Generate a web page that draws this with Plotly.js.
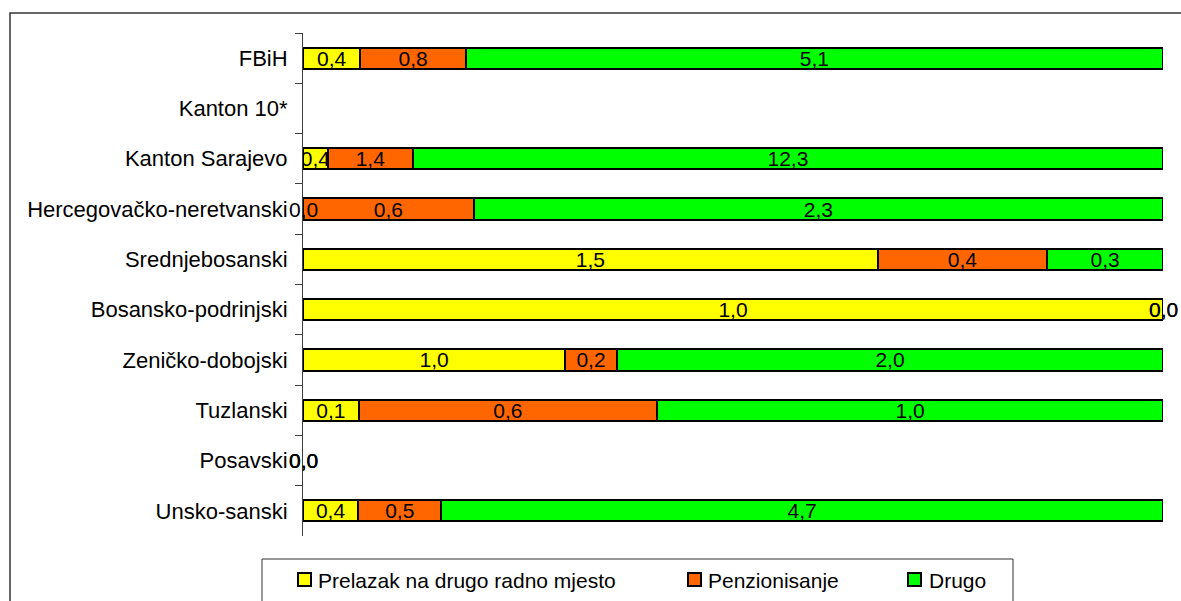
<!DOCTYPE html>
<html>
<head>
<meta charset="utf-8">
<script src="https://cdn.plot.ly/plotly-3.0.1.min.js"></script>
<style>
  html, body { margin: 0; padding: 0; background: #ffffff; }
  #chart { width: 1181px; height: 601px; }
</style>
</head>
<body>
<div id="chart"></div>
<script>
// ---- Data (top to bottom as shown) ----
var categories = ['FBiH', 'Kanton 10*', 'Kanton Sarajevo', 'Hercegovačko-neretvanski',
  'Srednjebosanski', 'Bosansko-podrinjski', 'Zeničko-dobojski', 'Tuzlanski', 'Posavski', 'Unsko-sanski'];
var seriesNames = ['Prelazak na drugo radno mjesto', 'Penzionisanje', 'Drugo'];
var prelazak = [0.42, null, 0.41, 0.0, 1.49, 1.0, 0.96, 0.11, 0.0, 0.36];
var penzionisanje = [0.77, null, 1.39, 0.57, 0.44, 0.0, 0.19, 0.59, 0.0, 0.54];
var drugo = [5.1, null, 12.3, 2.3, 0.3, 0.0, 2.0, 1.0, 0.0, 4.7];
var seriesColors = ['#FFFF00', '#FF6600', '#00FF00'];

var seriesValues = [prelazak, penzionisanje, drugo];
var FONT = 'Liberation Sans, Arial, sans-serif';

function fmt(v) { return v.toFixed(1).replace('.', ','); }

var traces = seriesValues.map(function (vals, i) {
  return {
    type: 'bar',
    orientation: 'h',
    name: seriesNames[i],
    y: categories,
    x: vals,
    text: vals.map(function (v) { return (v === null || v === 0) ? '' : fmt(v); }),
    textposition: 'inside',
    insidetextanchor: 'middle',
    constraintext: 'none',
    textfont: { family: FONT, size: 21, color: '#000000' },
    insidetextfont: { family: FONT, size: 21, color: '#000000' },
    marker: { color: seriesColors[i], line: { color: '#000000', width: 2 } },
    hoverinfo: 'skip',
    showlegend: false
  };
});

// labels for zero values (drawn centred at their stack position)
var annotations = [];
categories.forEach(function (cat, ci) {
  var total = 0;
  seriesValues.forEach(function (s) { if (s[ci] !== null) total += s[ci]; });
  var cum = 0;
  seriesValues.forEach(function (s) {
    var v = s[ci];
    if (v === null) return;
    if (v === 0) {
      annotations.push({
        xref: 'x', yref: 'y', x: total > 0 ? cum / total * 100 : 0, y: cat,
        text: fmt(0), showarrow: false, xanchor: 'center', yanchor: 'middle',
        font: { family: FONT, size: 21, color: '#000000' }
      });
    }
    cum += v;
  });
});

// pixel -> paper helpers (plot area: x 303..1163, y 33..536)
var L = 303, R = 18, T = 33, B = 65, W = 1181, H = 601;
var PW = W - L - R, PH = H - T - B;
function px(p) { return (p - L) / PW; }
function py(p) { return 1 - (p - T) / PH; }

var shapes = [
  // outer chart frame
  { type: 'rect', xref: 'paper', yref: 'paper', x0: px(10), x1: px(1200), y0: py(13), y1: py(640),
    line: { color: '#333333', width: 1.5 }, fillcolor: 'rgba(0,0,0,0)', layer: 'below' },
  // legend box
  { type: 'rect', xref: 'paper', yref: 'paper', x0: px(262), x1: px(1013), y0: py(559), y1: py(640),
    line: { color: '#333333', width: 1 }, fillcolor: 'rgba(0,0,0,0)' }
];
var legSquareX = [298, 688, 908];
var legTextX = [316, 706, 927];
var legY = 580;
seriesNames.forEach(function (n, i) {
  shapes.push({ type: 'rect', xref: 'paper', yref: 'paper',
    x0: px(legSquareX[i]), x1: px(legSquareX[i] + 13), y0: py(legY - 7), y1: py(legY + 6),
    line: { color: '#000000', width: 2 }, fillcolor: seriesColors[i] });
  annotations.push({ xref: 'paper', yref: 'paper', x: px(legTextX[i]), y: py(legY),
    text: n, showarrow: false, xanchor: 'left', yanchor: 'middle',
    font: { family: FONT, size: 21, color: '#000000' } });
});

var layout = {
  width: W, height: H,
  margin: { l: L, r: R, t: T, b: B, pad: 0 },
  paper_bgcolor: '#ffffff', plot_bgcolor: '#ffffff',
  barmode: 'stack',
  barnorm: 'percent',
  bargap: 0.58,
  showlegend: false,
  font: { family: FONT, size: 21, color: '#000000' },
  xaxis: { range: [0, 100], visible: false, showgrid: false, zeroline: false, fixedrange: true },
  yaxis: {
    type: 'category', categoryorder: 'array', categoryarray: categories,
    autorange: 'reversed',
    showline: true, linecolor: '#404040', linewidth: 1,
    ticks: 'outside', tickson: 'boundaries', ticklen: 7, tickcolor: '#404040', tickwidth: 1,
    ticklabelstandoff: 10,
    tickfont: { family: FONT, size: 22, color: '#000000' },
    showgrid: false, zeroline: false, fixedrange: true
  },
  shapes: shapes,
  annotations: annotations
};

Plotly.newPlot('chart', traces, layout, { displayModeBar: false, staticPlot: true });
</script>
</body>
</html>
